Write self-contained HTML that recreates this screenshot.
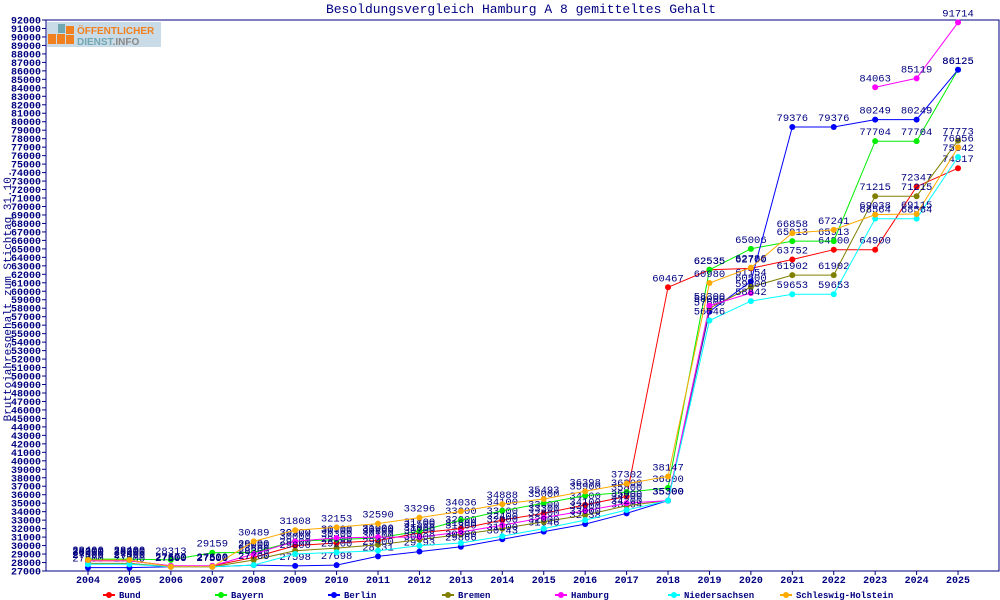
<!DOCTYPE html>
<html><head><meta charset="utf-8"><style>
body{margin:0;background:#fff;}
svg{display:block;font-family:"Liberation Mono","DejaVu Sans Mono",monospace;}
</style></head><body>
<svg id="s" width="1000" height="600" xmlns="http://www.w3.org/2000/svg">
<rect x="0" y="0" width="1000" height="600" fill="#fff"/>
<text x="521" y="13" font-size="13" fill="#000080" text-anchor="middle">Besoldungsvergleich Hamburg A 8 gemitteltes Gehalt</text>
<text transform="translate(11,296) rotate(-90)" font-size="11" fill="#000080" text-anchor="middle">Bruttojahresgehalt zum Stichtag 31.10.</text>
<rect x="46" y="20" width="953" height="551" fill="none" stroke="#000080" stroke-width="1"/>
<g id="g"></g>
<rect x="47" y="22" width="114" height="25" fill="#c9dbe6"/>
<rect x="48" y="34" width="8" height="10" fill="#f08020"/><rect x="57" y="34" width="8" height="10" fill="#f08020"/><rect x="66" y="26" width="8" height="8" fill="#f08020"/><rect x="66" y="35" width="8" height="9" fill="#f08020"/>
<rect x="58" y="24" width="7" height="9" fill="#6fa7b3"/>
<text x="77" y="34" font-family="Liberation Sans,sans-serif" font-weight="bold" font-size="10" fill="#f08020">ÖFFENTLICHER</text>
<text x="77" y="45" font-family="Liberation Sans,sans-serif" font-weight="bold" font-size="10" fill="#6fa7b3">DIENST<tspan fill="#888">.INFO</tspan></text>
</svg>
<script>
var g=document.getElementById('g'),h='';
function Y(v){return 571-(v-27000)*551/65000;}
function X(i){return 88+i*41.43;}
for(var v=27000;v<=92000;v+=1000){var y=Y(v);h+='<line x1="42" x2="46" y1="'+y+'" y2="'+y+'" stroke="#000080"/><text x="41" y="'+(y+3.5)+'" font-size="10" font-weight="bold" fill="#000080" text-anchor="end">'+v+'</text>';}
for(var i=0;i<22;i++){var x=X(i);h+='<line x1="'+x+'" x2="'+x+'" y1="571" y2="575" stroke="#000080"/><text x="'+x+'" y="583" font-size="10" font-weight="bold" fill="#000080" text-anchor="middle">'+(2004+i)+'</text>';}
var S=[
["Bund","#ff0000",[28200,28200,27600,27600,28600,30000,30300,30600,31500,32000,33000,33800,34800,35800,60467,62535,62700,63752,64900,64900,72347,74517]],
["Bayern","#00ee00",[28400,28400,28313,29159,29200,30500,30700,30900,31700,33000,34100,35000,35900,36300,36800,62535,65006,65913,65913,77704,77704,86125]],
["Berlin","#0000ff",[27400,27400,27500,27500,27700,27598,27698,28731,29293,29866,30743,31646,32538,33804,35300,57600,61154,79376,79376,80249,80249,86125]],
["Bremen","#808000",[27900,27900,27500,27500,28300,29400,29700,30100,30700,31300,32000,32800,33600,34700,35300,58000,60500,61902,61902,71215,71215,77773]],
["Hamburg","#ff00ff",[28200,28200,27600,27600,29000,30500,30900,31000,31000,31600,32400,33300,34100,35000,35300,58300,59800,null,null,84063,85119,91714]],
["Niedersachsen","#00ffff",[27800,27800,27500,27500,27700,29000,29200,29400,30000,30300,31100,32000,33000,34200,35300,56546,58842,59653,59653,68564,68564,75842]],
["Schleswig-Holstein","#ffaa00",[28300,28300,27500,27500,30489,31808,32153,32590,33296,34036,34888,35493,36398,37302,38147,60980,62786,66858,67241,69038,69115,76956]]];
var L=[108,220,333,447,560,673,785];
S.forEach(function(s,k){var d=s[2],p='',m='',t='';
for(var i=0;i<22;i++){if(d[i]==null){continue;}var x=X(i),y=Y(d[i]);
p+=(i>0&&d[i-1]!=null?'L':'M')+x.toFixed(1)+' '+y.toFixed(1);
m+='<circle cx="'+x+'" cy="'+y+'" r="3" fill="'+s[1]+'"/>';
t+='<text x="'+x+'" y="'+(y-6)+'" font-size="10.5" fill="#000080" text-anchor="middle">'+d[i]+'</text>';}
h+='<path d="'+p+'" fill="none" stroke="'+s[1]+'" stroke-width="1"/>'+m+t;
var lx=L[k];h+='<line x1="'+(lx-5)+'" x2="'+(lx+7)+'" y1="595" y2="595" stroke="'+s[1]+'" stroke-width="2"/><circle cx="'+(lx+1)+'" cy="595" r="3" fill="'+s[1]+'"/><text x="'+(lx+11)+'" y="598" font-size="9" font-weight="bold" fill="#000080">'+s[0]+'</text>';});
g.innerHTML=h;
</script>
</body></html>
